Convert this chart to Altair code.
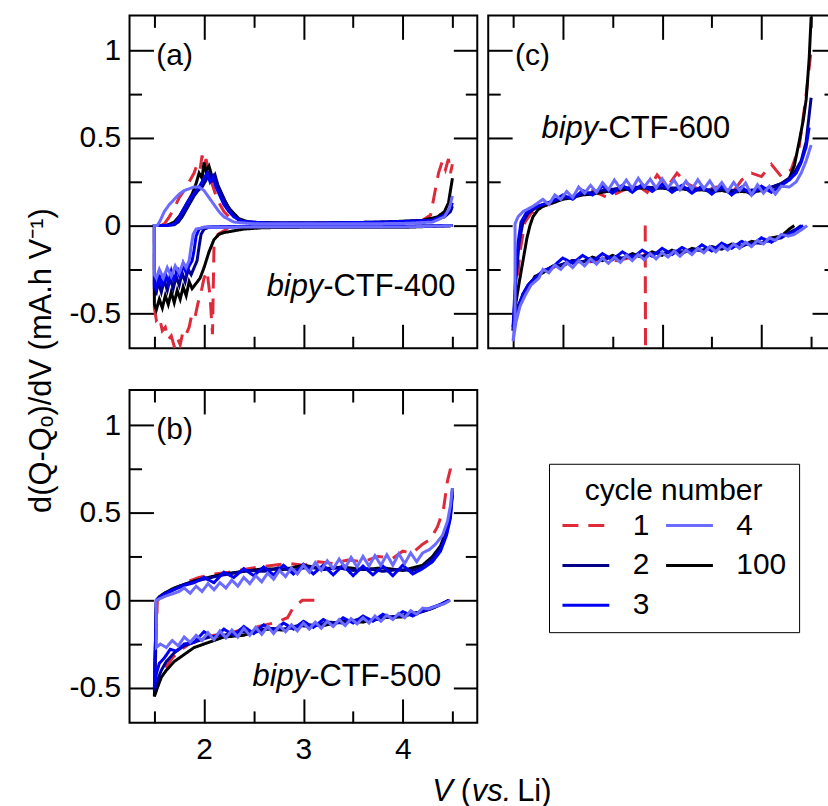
import altair as alt
import pandas as pd

FONT = "Liberation Sans"

# ---------------- data ----------------
CYCLES = ["1", "2", "3", "4", "100"]
COLORS = {"1": "#de2a3a", "2": "#00008b", "3": "#0000f2", "4": "#6b6bff", "100": "#000000"}
DRAW_ORDER = ["1", "100", "2", "3", "4"]

X_MAJOR = [2, 3, 4]
X_MINOR = [1.5, 2.5, 3.5, 4.5]
Y_MAJOR = [-0.5, 0, 0.5, 1]
Y_MINOR = [-0.25, 0.25, 0.75]

# ---- panel (a) bipy-CTF-400 ----
A1_V = [2.25, 2.2, 2.14, 2.1, 2.085, 2.06, 2.03, 2.0, 1.97, 1.94, 1.91, 1.88, 1.85, 1.82, 1.79, 1.76, 1.73, 1.7, 1.67, 1.64, 1.61, 1.58, 1.55, 1.52, 1.5,
        1.5, 1.55, 1.6, 1.65, 1.7, 1.75, 1.8, 1.85, 1.9, 1.93, 1.96, 1.98, 2.0, 2.02, 2.05, 2.08, 2.12, 2.16, 2.2, 2.25, 2.3, 2.4, 2.6, 3.0, 3.5, 4.0, 4.2, 4.28, 4.32, 4.36, 4.4, 4.43, 4.46, 4.48, 4.5]
A1_Q = [-0.01, -0.03, -0.05, -0.12, -0.62, -0.40, -0.26, -0.30, -0.38, -0.44, -0.52, -0.50, -0.58, -0.62, -0.60, -0.68, -0.64, -0.69, -0.63, -0.65, -0.58, -0.60, -0.52, -0.54, -0.47,
        0.0, 0.0, 0.01, 0.05, 0.10, 0.16, 0.20, 0.25, 0.30, 0.35, 0.32, 0.40, 0.34, 0.38, 0.30, 0.24, 0.17, 0.12, 0.08, 0.05, 0.03, 0.02, 0.015, 0.015, 0.015, 0.02, 0.03, 0.06, 0.18, 0.30, 0.37, 0.32, 0.38, 0.30, 0.35]
A100_V = [4.5, 4.0, 3.5, 3.0, 2.6, 2.4, 2.3, 2.2, 2.15, 2.1, 2.05, 2.0, 1.96, 1.92, 1.88, 1.85, 1.82, 1.79, 1.76, 1.73, 1.7, 1.67, 1.64, 1.61, 1.58, 1.55, 1.52, 1.5,
          1.5, 1.62, 1.7, 1.76, 1.8, 1.84, 1.88, 1.92, 1.95, 1.98, 2.0, 2.02, 2.05, 2.08, 2.12, 2.16, 2.2, 2.25, 2.3, 2.35, 2.45, 2.7, 3.2, 3.8, 4.2, 4.35, 4.42, 4.46, 4.48, 4.5]
A100_Q = [0.0, -0.01, -0.01, -0.01, -0.012, -0.02, -0.03, -0.04, -0.05, -0.08, -0.15, -0.24, -0.30, -0.33, -0.36, -0.32, -0.40, -0.35, -0.42, -0.37, -0.44, -0.38, -0.45, -0.40, -0.47, -0.42, -0.48, -0.45,
          0.0, 0.0, 0.02, 0.06, 0.10, 0.14, 0.18, 0.24, 0.30, 0.27, 0.36, 0.31, 0.34, 0.28, 0.25, 0.20, 0.15, 0.10, 0.07, 0.04, 0.02, 0.015, 0.015, 0.02, 0.03, 0.05, 0.08, 0.13, 0.20, 0.27]
A2_V = [4.5, 4.0, 3.5, 3.0, 2.5, 2.1, 2.05, 2.0, 1.97, 1.95, 1.93, 1.9, 1.87, 1.84, 1.81, 1.78, 1.75, 1.72, 1.69, 1.66, 1.63, 1.6, 1.57, 1.54, 1.52, 1.5,
        1.5, 1.6, 1.7, 1.74, 1.78, 1.82, 1.86, 1.9, 1.94, 1.98, 2.02, 2.05, 2.08, 2.11, 2.14, 2.18, 2.22, 2.27, 2.33, 2.4, 2.7, 3.3, 3.9, 4.3, 4.42, 4.48, 4.5]
A2_Q = [0.0, -0.005, -0.005, -0.005, -0.006, -0.008, -0.01, -0.02, -0.05, -0.12, -0.2, -0.24, -0.28, -0.25, -0.32, -0.27, -0.34, -0.29, -0.36, -0.3, -0.37, -0.31, -0.38, -0.32, -0.38, -0.36,
        0.0, 0.0, 0.005, 0.02, 0.05, 0.09, 0.13, 0.17, 0.20, 0.22, 0.26, 0.30, 0.26, 0.29, 0.23, 0.18, 0.13, 0.08, 0.04, 0.02, 0.015, 0.015, 0.02, 0.03, 0.05, 0.08, 0.11]
A3_V = [4.5, 4.0, 3.5, 3.0, 2.5, 2.05, 2.0, 1.95, 1.92, 1.9, 1.88, 1.85, 1.82, 1.79, 1.76, 1.73, 1.7, 1.67, 1.64, 1.61, 1.58, 1.55, 1.52, 1.5,
        1.5, 1.6, 1.68, 1.72, 1.76, 1.8, 1.84, 1.88, 1.92, 1.96, 2.0, 2.03, 2.06, 2.09, 2.12, 2.16, 2.2, 2.25, 2.3, 2.38, 2.6, 3.2, 3.8, 4.3, 4.42, 4.48, 4.5]
A3_Q = [0.0, -0.004, -0.004, -0.004, -0.005, -0.008, -0.01, -0.02, -0.06, -0.14, -0.2, -0.23, -0.27, -0.22, -0.3, -0.24, -0.32, -0.26, -0.33, -0.27, -0.35, -0.28, -0.36, -0.34,
        0.0, 0.0, 0.005, 0.02, 0.06, 0.10, 0.14, 0.17, 0.20, 0.23, 0.27, 0.30, 0.25, 0.28, 0.22, 0.17, 0.12, 0.08, 0.05, 0.025, 0.015, 0.015, 0.02, 0.03, 0.06, 0.1, 0.13]
A4_V = [4.5, 4.0, 3.5, 3.0, 2.5, 2.0, 1.92, 1.89, 1.87, 1.85, 1.82, 1.79, 1.75, 1.71, 1.67, 1.63, 1.59, 1.55, 1.52, 1.5,
        1.5, 1.53, 1.56, 1.6, 1.65, 1.7, 1.75, 1.8, 1.85, 1.9, 1.95, 2.0, 2.05, 2.1, 2.15, 2.2, 2.3, 2.5, 3.0, 3.5, 4.0, 4.3, 4.42, 4.47, 4.5]
A4_Q = [0.0, -0.008, -0.008, -0.008, -0.008, -0.01, -0.02, -0.05, -0.12, -0.2, -0.24, -0.21, -0.27, -0.23, -0.29, -0.24, -0.3, -0.25, -0.3, -0.28,
        0.0, 0.0, 0.03, 0.08, 0.12, 0.15, 0.18, 0.20, 0.21, 0.22, 0.22, 0.20, 0.16, 0.12, 0.08, 0.05, 0.02, 0.01, 0.01, 0.01, 0.012, 0.02, 0.05, 0.1, 0.17]

# ---- panel (c) bipy-CTF-600 ----
C1_V = [2.83, 2.845, 2.83, 2.7, 2.55, 2.4, 2.25, 2.1, 1.95, 1.85, 1.75, 1.68, 1.62, 1.57, 1.53, 1.5,
        1.5, 1.53, 1.57, 1.62, 1.68, 1.75, 1.85, 2.0, 2.15, 2.3, 2.45, 2.6, 2.75, 2.85, 2.95, 3.05, 3.15, 3.25, 3.4, 3.55, 3.7, 3.8, 3.9, 4.0, 4.1, 4.2, 4.3, 4.38, 4.44, 4.48, 4.5]
C1_Q = [0.0, -3.0, -0.17, -0.18, -0.2, -0.19, -0.21, -0.2, -0.23, -0.25, -0.28, -0.32, -0.37, -0.43, -0.5, -0.58,
        -0.58, -0.4, -0.15, 0.02, 0.07, 0.1, 0.12, 0.15, 0.17, 0.2, 0.16, 0.2, 0.23, 0.19, 0.29, 0.22, 0.3, 0.24, 0.2, 0.22, 0.18, 0.26, 0.3, 0.28, 0.35, 0.28, 0.32, 0.45, 0.7, 0.9, 1.0]
C100_V = [4.33, 4.28, 4.2, 4.1, 4.0, 3.9, 3.8, 3.7, 3.6, 3.5, 3.4, 3.3, 3.2, 3.1, 3.0, 2.9, 2.8, 2.7, 2.6, 2.5, 2.4, 2.3, 2.2, 2.1, 2.0, 1.9, 1.8, 1.72, 1.65, 1.6, 1.56, 1.53, 1.5,
          1.5, 1.52, 1.56, 1.6, 1.64, 1.67, 1.7, 1.75, 1.8, 1.9, 2.0, 2.1, 2.2, 2.3, 2.4, 2.5, 2.6, 2.7, 2.8, 2.9, 3.0, 3.1, 3.2, 3.3, 3.4, 3.5, 3.6, 3.7, 3.8, 3.9, 4.0, 4.1, 4.2, 4.28, 4.33, 4.38, 4.42, 4.45, 4.48, 4.5]
C100_Q = [0.0, -0.02, -0.06, -0.07, -0.1, -0.09, -0.12, -0.105, -0.135, -0.12, -0.145, -0.13, -0.16, -0.14, -0.17, -0.15, -0.18, -0.16, -0.19, -0.17, -0.2, -0.18, -0.21, -0.2, -0.23, -0.23, -0.27, -0.29, -0.36, -0.39, -0.47, -0.51, -0.6,
          -0.6, -0.47, -0.33, -0.2, -0.07, 0.0, 0.05, 0.09, 0.11, 0.13, 0.15, 0.16, 0.175, 0.18, 0.19, 0.2, 0.205, 0.21, 0.215, 0.21, 0.215, 0.205, 0.21, 0.2, 0.205, 0.195, 0.2, 0.19, 0.195, 0.19, 0.2, 0.215, 0.24, 0.27, 0.34, 0.48, 0.6, 0.72, 0.95, 1.19]
C2_V = [4.4, 4.35, 4.28, 4.2, 4.1, 4.0, 3.9, 3.8, 3.7, 3.6, 3.5, 3.4, 3.3, 3.2, 3.1, 3.0, 2.9, 2.8, 2.7, 2.6, 2.5, 2.4, 2.3, 2.2, 2.1, 2.0, 1.9, 1.8, 1.72, 1.65, 1.6, 1.56, 1.53, 1.5,
        1.5, 1.53, 1.56, 1.6, 1.65, 1.7, 1.75, 1.8, 1.9, 2.0, 2.2, 2.4, 2.6, 2.8, 3.0, 3.2, 3.4, 3.6, 3.8, 4.0, 4.1, 4.2, 4.28, 4.34, 4.4, 4.45, 4.5]
C2_Q = [0.0, -0.02, -0.04, -0.07, -0.08, -0.1, -0.1, -0.115, -0.115, -0.13, -0.125, -0.14, -0.14, -0.15, -0.15, -0.16, -0.16, -0.175, -0.17, -0.185, -0.18, -0.195, -0.19, -0.205, -0.2, -0.22, -0.235, -0.26, -0.3, -0.34, -0.4, -0.45, -0.52, -0.6,
        -0.6, -0.3, -0.1, 0.02, 0.07, 0.09, 0.11, 0.12, 0.14, 0.155, 0.18, 0.2, 0.215, 0.22, 0.215, 0.215, 0.205, 0.205, 0.2, 0.205, 0.22, 0.24, 0.27, 0.31, 0.37, 0.48, 0.73]
C3_V = [4.42, 4.36, 4.3, 4.2, 4.1, 4.0, 3.9, 3.8, 3.7, 3.6, 3.5, 3.4, 3.3, 3.2, 3.1, 3.0, 2.9, 2.8, 2.7, 2.6, 2.5, 2.4, 2.3, 2.2, 2.1, 2.0,
        1.9, 1.8, 1.72, 1.65, 1.6, 1.56, 1.53, 1.5,
        1.5, 1.52, 1.55, 1.58, 1.63, 1.7, 1.8, 1.9,
        2.0, 2.1, 2.2, 2.3, 2.4, 2.5, 2.6, 2.7, 2.8, 2.9, 3.0, 3.1, 3.2, 3.3, 3.4, 3.5, 3.6, 3.7, 3.8, 3.9, 4.0, 4.1,
        4.2, 4.28, 4.35, 4.4, 4.45, 4.48]
C3_Q = [0.0, -0.02, -0.045, -0.06, -0.095, -0.07, -0.115, -0.09, -0.13, -0.1, -0.145, -0.11, -0.155, -0.125, -0.165, -0.13, -0.175, -0.14, -0.185, -0.15, -0.195, -0.16, -0.205, -0.17, -0.215, -0.185,
        -0.235, -0.26, -0.3, -0.34, -0.39, -0.45, -0.5, -0.58,
        -0.58, -0.35, -0.1, 0.02, 0.07, 0.1, 0.12, 0.14,
        0.175, 0.15, 0.2, 0.175, 0.225, 0.185, 0.23, 0.19, 0.235, 0.195, 0.235, 0.19, 0.23, 0.185, 0.225, 0.18, 0.225, 0.175, 0.22, 0.175, 0.225, 0.19,
        0.23, 0.26, 0.3, 0.36, 0.45, 0.56]
C4_V = [4.46, 4.4, 4.33, 4.27,
        4.2, 4.14, 4.08, 4.02, 3.96, 3.9, 3.84, 3.78, 3.72, 3.66, 3.6, 3.54, 3.48, 3.42, 3.36, 3.3, 3.24, 3.18, 3.12, 3.06, 3.0,
        2.94, 2.88, 2.82, 2.76, 2.7, 2.64, 2.58, 2.52, 2.46, 2.4, 2.34, 2.28, 2.22, 2.16, 2.1, 2.04, 1.98, 1.92, 1.86, 1.8,
        1.76, 1.68, 1.62, 1.57, 1.53, 1.5,
        1.5, 1.52, 1.52, 1.55, 1.6, 1.7,
        1.8, 1.86, 1.92, 1.98, 2.04, 2.1, 2.16, 2.22, 2.28, 2.34, 2.4, 2.46, 2.52, 2.58, 2.64, 2.7, 2.76, 2.82, 2.88, 2.94, 3.0,
        3.06, 3.12, 3.18, 3.24, 3.3, 3.36, 3.42, 3.48, 3.54, 3.6, 3.66, 3.72, 3.78, 3.84, 3.9, 3.96, 4.02, 4.08, 4.14, 4.2,
        4.28, 4.35, 4.4, 4.45, 4.5]
C4_Q = [0.0, -0.025, -0.05, -0.06,
        -0.05, -0.085, -0.07, -0.105, -0.085, -0.12, -0.095, -0.13, -0.105, -0.14, -0.115, -0.15, -0.12, -0.155, -0.13, -0.165, -0.14, -0.175, -0.145, -0.18, -0.155,
        -0.19, -0.16, -0.195, -0.165, -0.2, -0.17, -0.21, -0.18, -0.215, -0.185, -0.22, -0.19, -0.23, -0.2, -0.24, -0.21, -0.25, -0.225, -0.27, -0.25,
        -0.3, -0.34, -0.4, -0.46, -0.55, -0.66,
        -0.66, -0.53, 0.01, 0.05, 0.08, 0.11,
        0.15, 0.12, 0.175, 0.15, 0.195, 0.16, 0.22, 0.185, 0.23, 0.19, 0.245, 0.205, 0.26, 0.212, 0.26, 0.212, 0.27, 0.22, 0.265, 0.215, 0.268,
        0.217, 0.261, 0.205, 0.254, 0.208, 0.262, 0.21, 0.255, 0.203, 0.246, 0.194, 0.247, 0.2, 0.243, 0.175, 0.233, 0.185, 0.225, 0.18, 0.225,
        0.22, 0.25, 0.3, 0.37, 0.46]

# ---- panel (b) bipy-CTF-500 ----
B1_V = [3.11, 2.99, 2.9, 2.84, 2.7, 2.55, 2.4, 2.25, 2.1, 1.95, 1.85, 1.75, 1.68, 1.62, 1.57, 1.53, 1.5,
        1.5, 1.53, 1.58, 1.65, 1.75, 1.85, 1.95, 2.1, 2.25, 2.4, 2.55, 2.7, 2.85, 3.0, 3.15, 3.3, 3.45, 3.6, 3.75, 3.9, 4.0, 4.1, 4.2, 4.28, 4.35, 4.41, 4.45, 4.48, 4.5]
B1_Q = [0.0, 0.0, -0.04, -0.1, -0.13, -0.15, -0.165, -0.19, -0.2, -0.23, -0.25, -0.29, -0.33, -0.38, -0.43, -0.49, -0.55,
        -0.55, 0.0, 0.01, 0.05, 0.08, 0.11, 0.13, 0.15, 0.16, 0.175, 0.19, 0.2, 0.21, 0.2, 0.22, 0.21, 0.23, 0.22, 0.25, 0.24, 0.28, 0.27, 0.32, 0.35, 0.42, 0.52, 0.68, 0.75, 0.7]
B100_V = [4.47, 4.4, 4.3, 4.2, 4.1, 4.0, 3.8, 3.6, 3.4, 3.2, 3.0, 2.8, 2.6, 2.4, 2.2, 2.0, 1.9, 1.8, 1.7, 1.62, 1.57, 1.53, 1.5,
          1.5, 1.52, 1.55, 1.6, 1.7, 1.8, 1.9, 2.0, 2.2, 2.4, 2.6, 2.8, 3.0, 3.2, 3.4, 3.6, 3.8, 4.0, 4.1, 4.2, 4.3, 4.38, 4.44, 4.48, 4.5]
B100_Q = [0.0, -0.02, -0.045, -0.065, -0.075, -0.095, -0.1, -0.125, -0.12, -0.145, -0.14, -0.17, -0.165, -0.2, -0.21, -0.25, -0.27, -0.31, -0.35, -0.4, -0.44, -0.5, -0.55,
          -0.55, 0.0, 0.02, 0.04, 0.07, 0.09, 0.11, 0.125, 0.15, 0.165, 0.18, 0.175, 0.2, 0.18, 0.19, 0.175, 0.185, 0.17, 0.185, 0.2, 0.25, 0.31, 0.4, 0.5, 0.62]
B2_V = [4.46, 4.38, 4.28, 4.15, 4.0, 3.85, 3.7, 3.55, 3.4, 3.25, 3.1, 2.95, 2.8, 2.65, 2.5, 2.35, 2.2, 2.05, 1.9, 1.8, 1.7, 1.62, 1.57, 1.53, 1.5,
        1.5, 1.52, 1.56, 1.62, 1.7, 1.8, 1.9, 2.0, 2.15, 2.3, 2.45, 2.6, 2.75, 2.9, 3.05, 3.2, 3.35, 3.5, 3.65, 3.8, 3.95, 4.1, 4.2, 4.3, 4.38, 4.44, 4.48, 4.5]
B2_Q = [0.0, -0.025, -0.05, -0.07, -0.09, -0.095, -0.115, -0.11, -0.13, -0.125, -0.15, -0.145, -0.165, -0.16, -0.185, -0.18, -0.2, -0.21, -0.24, -0.26, -0.3, -0.35, -0.4, -0.46, -0.52,
        -0.52, 0.0, 0.02, 0.045, 0.065, 0.09, 0.105, 0.12, 0.14, 0.155, 0.17, 0.165, 0.185, 0.17, 0.19, 0.175, 0.185, 0.17, 0.18, 0.165, 0.175, 0.17, 0.19, 0.24, 0.3, 0.38, 0.48, 0.6]
B3_V = [4.47, 4.4, 4.3, 4.2, 4.1, 4.0, 3.9, 3.8, 3.7, 3.6, 3.5, 3.4, 3.3, 3.2, 3.1, 3.0, 2.9, 2.8, 2.7, 2.6, 2.5, 2.4, 2.3, 2.2, 2.1, 2.0,
        1.9, 1.8, 1.72, 1.66, 1.6, 1.55, 1.52, 1.5,
        1.5, 1.52, 1.56, 1.62, 1.7, 1.8, 1.9,
        2.0, 2.1, 2.2, 2.3, 2.4, 2.5, 2.6, 2.7, 2.8, 2.9, 3.0, 3.1, 3.2, 3.3, 3.4, 3.5, 3.6, 3.7, 3.8, 3.9, 4.0, 4.1,
        4.2, 4.3, 4.38, 4.44, 4.48, 4.5]
B3_Q = [0.0, -0.02, -0.04, -0.06, -0.09, -0.065, -0.105, -0.08, -0.12, -0.09, -0.13, -0.1, -0.145, -0.11, -0.155, -0.12, -0.165, -0.13, -0.175, -0.14, -0.19, -0.15, -0.2, -0.165, -0.215, -0.18,
        -0.24, -0.25, -0.29, -0.28, -0.33, -0.36, -0.42, -0.5,
        -0.5, 0.0, 0.02, 0.04, 0.06, 0.085, 0.1,
        0.13, 0.1, 0.16, 0.13, 0.18, 0.14, 0.19, 0.145, 0.2, 0.15, 0.205, 0.15, 0.2, 0.145, 0.2, 0.14, 0.195, 0.145, 0.195, 0.14, 0.2, 0.15,
        0.18, 0.22, 0.28, 0.37, 0.47, 0.64]
B4_V = [4.48, 4.42, 4.33, 4.26,
        4.2, 4.14, 4.08, 4.02, 3.96, 3.9, 3.84, 3.78, 3.72, 3.66, 3.6, 3.54, 3.48, 3.42, 3.36, 3.3, 3.24, 3.18, 3.12, 3.06, 3.0,
        2.94, 2.88, 2.82, 2.76, 2.7, 2.64, 2.58, 2.52, 2.46, 2.4, 2.34, 2.28, 2.22, 2.16, 2.1, 2.04, 1.98, 1.92, 1.86, 1.8,
        1.74, 1.68, 1.62, 1.56, 1.52,
        1.52, 1.52, 1.56, 1.62, 1.7, 1.75,
        1.8, 1.86, 1.92, 1.98, 2.04, 2.1, 2.16, 2.22, 2.28, 2.34, 2.4, 2.46, 2.52, 2.58, 2.64, 2.7, 2.76, 2.82, 2.88, 2.94, 3.0,
        3.06, 3.12, 3.18, 3.24, 3.3, 3.36, 3.42, 3.48, 3.54, 3.6, 3.66, 3.72, 3.78, 3.84, 3.9, 3.96, 4.02, 4.08, 4.14, 4.2,
        4.27, 4.33, 4.4, 4.45, 4.48, 4.5]
B4_Q = [0.0, -0.02, -0.035, -0.05,
        -0.045, -0.08, -0.06, -0.1, -0.075, -0.11, -0.085, -0.12, -0.09, -0.13, -0.1, -0.135, -0.105, -0.145, -0.11, -0.15, -0.12, -0.16, -0.125, -0.165, -0.13,
        -0.175, -0.14, -0.18, -0.145, -0.19, -0.15, -0.195, -0.155, -0.2, -0.16, -0.21, -0.17, -0.215, -0.175, -0.225, -0.185, -0.23, -0.2, -0.24, -0.21,
        -0.26, -0.23, -0.27, -0.25, -0.27,
        -0.27, 0.0, 0.01, 0.025, 0.04, 0.05,
        0.07, 0.04, 0.08, 0.05, 0.095, 0.06, 0.1, 0.07, 0.115, 0.08, 0.13, 0.095, 0.14, 0.105, 0.155, 0.12, 0.17, 0.135, 0.185, 0.15, 0.2,
        0.16, 0.215, 0.17, 0.225, 0.18, 0.235, 0.185, 0.245, 0.19, 0.25, 0.195, 0.255, 0.2, 0.26, 0.2, 0.265, 0.21, 0.27, 0.22, 0.27,
        0.29, 0.32, 0.37, 0.45, 0.54, 0.64]

CURVES = {
    "a": {"1": (A1_V, A1_Q), "2": (A2_V, A2_Q), "3": (A3_V, A3_Q), "4": (A4_V, A4_Q), "100": (A100_V, A100_Q)},
    "b": {"1": (B1_V, B1_Q), "2": (B2_V, B2_Q), "3": (B3_V, B3_Q), "4": (B4_V, B4_Q), "100": (B100_V, B100_Q)},
    "c": {"1": (C1_V, C1_Q), "2": (C2_V, C2_Q), "3": (C3_V, C3_Q), "4": (C4_V, C4_Q), "100": (C100_V, C100_Q)},
}

rows = []
for panel_key, d in CURVES.items():
    for cyc in DRAW_ORDER:
        vs, qs = d[cyc]
        for i, (v, q) in enumerate(zip(vs, qs, strict=True)):
            rows.append({"panel": panel_key, "cycle": cyc, "i": i, "V": v, "Q": q})
df = pd.DataFrame(rows)

# ---------------- chart ----------------
XD = [1.25, 4.75]
YD = [-0.7, 1.2]
W, H = 349, 334

LEG = alt.Legend(
    title="cycle number", orient="none", legendX=421, legendY=450, columns=2,
    symbolType="stroke", symbolSize=2209, symbolStrokeWidth=3,
    labelFont=FONT, labelFontSize=30, labelColor="black", labelOffset=22,
    titleFont=FONT, titleFontSize=30, titleFontWeight="normal", titleColor="black",
    titleAnchor="middle", titlePadding=-5,
    strokeColor="black", fillColor="white", padding=12, rowPadding=-5, columnPadding=10,
)


def axis(orient, values, size, labels=False, pad=0):
    kw = dict(orient=orient, values=values, tickSize=size, offset=-size, labels=labels,
              domain=False, grid=False, ticks=True, title=None, tickColor="black",
              tickWidth=2, minExtent=0)
    if labels:
        kw.update(labelFont=FONT, labelFontSize=30, labelColor="black", labelPadding=pad,
                  labelExpr="toString(datum.value)", labelFlush=False, labelOverlap=False)
    return alt.Axis(**kw)


ONE = pd.DataFrame({"k": [0]})


def text_at(text, x, y, align, style="normal", size=31):
    return alt.Chart(ONE).mark_text(
        text=text, align=align, baseline="middle", font=FONT, fontSize=size,
        fontStyle=style, color="black"
    ).encode(x=alt.XDatum(x, axis=None), y=alt.YDatum(y, axis=None))


def text_px(text, x, y, style="normal", size=31):
    return alt.Chart(ONE).mark_text(
        text=text, align="left", baseline="alphabetic", font=FONT, fontSize=size,
        fontStyle=style, color="black"
    ).encode(x=alt.value(x), y=alt.value(y))


def panel(key, xlabels, ylabels, tag, bx, by, suffix, extra=()):
    data = df[df.panel == key]
    xs = alt.Scale(domain=XD, nice=False, zero=False)
    ys = alt.Scale(domain=YD, nice=False, zero=False)
    lines = alt.Chart(data).mark_line(clip=True, strokeWidth=3).encode(
        x=alt.X("V:Q", scale=xs, axis=axis("bottom", X_MAJOR, 24, xlabels, 12)),
        y=alt.Y("Q:Q", scale=ys, axis=axis("left", Y_MAJOR, 24, ylabels, 9)),
        color=alt.Color("cycle:N", scale=alt.Scale(domain=CYCLES, range=[COLORS[c] for c in CYCLES]), legend=LEG),
        strokeDash=alt.StrokeDash("cycle:N", scale=alt.Scale(domain=CYCLES, range=[[16, 10] if c == "1" else [1, 0] for c in CYCLES]), legend=LEG),
        order=alt.Order("i:Q"),
    )

    def ghost(xax, yax):
        return alt.Chart(data).mark_point(opacity=0, clip=True, size=1).encode(
            x=alt.X("V:Q", scale=xs, axis=xax), y=alt.Y("Q:Q", scale=ys, axis=yax))

    g2 = ghost(axis("bottom", X_MINOR, 12), axis("left", Y_MINOR, 12))
    g3 = ghost(axis("top", X_MAJOR, 24), axis("right", Y_MAJOR, 24))
    g4 = ghost(axis("top", X_MINOR, 12), axis("right", Y_MINOR, 12))
    texts = [
        text_at(tag, 1.52, 0.97, "left", size=30),
        text_at("bipy", bx, by, "right", "italic"),
        text_at(suffix, bx, by, "left"),
    ]
    return alt.layer(lines, g2, g3, g4, *texts, *extra).resolve_axis(
        x="independent", y="independent").properties(width=W, height=H)


pa = panel("a", False, True, "(a)", 3.2, -0.35, "-CTF-400")
pc = panel("c", False, False, "(c)", 2.356, 0.553, "-CTF-600")
xtitle = [
    text_px("V", 303.7, 412, "italic"),
    text_px("(", 332.5, 412),
    text_px("vs.", 343.5, 412, "italic"),
    text_px("Li)", 389, 412),
]
pb = panel("b", True, True, "(b)", 3.058, -0.441, "-CTF-500", xtitle)

chart = alt.concat(pa, pc, pb, columns=2, spacing={"row": 42, "column": 11}, align="each", bounds="flush").properties(
    title=alt.TitleParams(text="d(Q-Qₒ)/dV (mA.h V⁻¹)", orient="left", anchor="middle",
                          font=FONT, fontSize=31, fontWeight="normal", color="black", offset=10, dx=50),
    padding={"left": 26, "top": 12, "right": -10, "bottom": -2},
).configure(font=FONT, background="white").configure_view(stroke="black", strokeWidth=2)

chart.save("out.html", embed_options={"renderer": "svg", "actions": False})
